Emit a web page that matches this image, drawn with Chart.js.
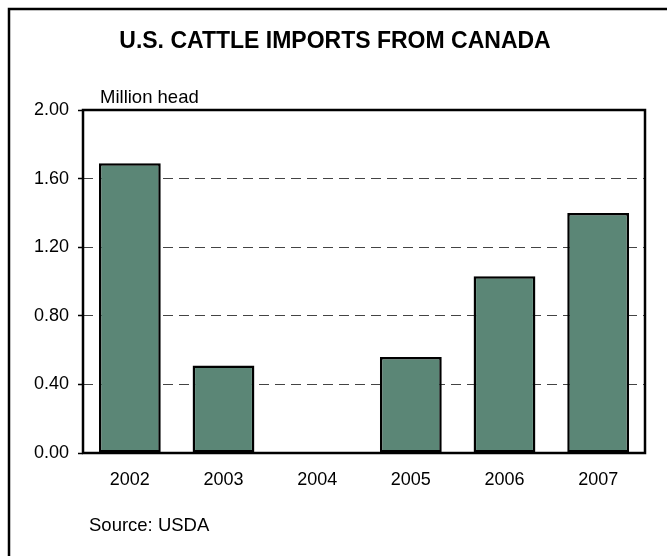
<!DOCTYPE html>
<html>
<head>
<meta charset="utf-8">
<title>U.S. Cattle Imports from Canada</title>
<script src="https://cdn.jsdelivr.net/npm/chart.js@4"></script>
<style>
  html, body { margin: 0; padding: 0; background: #fff; }
  #wrap { width: 667px; height: 556px; }
</style>
</head>
<body>
<div id="wrap"><canvas id="cattleChart" width="667" height="556"></canvas></div>
<script>
// Imports per year, million head
const years = ['2002', '2003', '2004', '2005', '2006', '2007'];
const imports = [1.69, 0.51, 0, 0.56, 1.03, 1.40];
const yTicks = [0, 0.4, 0.8, 1.2, 1.6, 2.0];

const FONT = "'Liberation Sans', Arial, sans-serif";

// Frame, title and notes drawn straight onto the canvas
const decorations = {
    id: 'decorations',
    afterDatasetsDraw(chart) {
        const ctx = chart.ctx, a = chart.chartArea;
        ctx.save();
        ctx.strokeStyle = '#000';
        ctx.lineWidth = 2.5;
        ctx.strokeRect(a.left, a.top, a.right - a.left, a.bottom - a.top);
        ctx.restore();
    },
    afterDraw(chart) {
        const ctx = chart.ctx;
        ctx.save();
        // outer box, open to the right and bottom
        ctx.strokeStyle = '#000';
        ctx.lineWidth = 2.5;
        ctx.beginPath();
        ctx.moveTo(9, 560);
        ctx.lineTo(9, 9);
        ctx.lineTo(670, 9);
        ctx.stroke();

        ctx.fillStyle = '#000';
        ctx.textBaseline = 'alphabetic';
        ctx.textAlign = 'center';
        ctx.font = 'bold 23px ' + FONT;
        ctx.fillText('U.S. CATTLE IMPORTS FROM CANADA', 335, 48);

        ctx.textAlign = 'left';
        ctx.font = '18.5px ' + FONT;
        ctx.fillText('Million head', 100, 103);

        ctx.font = '18.5px ' + FONT;
        ctx.fillText('Source: USDA', 89, 531);
        ctx.restore();
    }
};

const ctx = document.getElementById('cattleChart').getContext('2d');
const cattleChart = new Chart(ctx, {
    type: 'bar',
    data: {
        labels: years,
        datasets: [{
            label: 'Cattle imports',
            data: imports,
            backgroundColor: '#5b8676',
            borderColor: '#000',
            borderWidth: 2.5,
            borderSkipped: false,
            barPercentage: 0.66,
            categoryPercentage: 1
        }]
    },
    options: {
        responsive: false,
        animation: false,
        layout: { padding: { left: 8, top: 110, right: 22, bottom: 63 } },
        plugins: {
            legend: { display: false },
            tooltip: { enabled: false }
        },
        scales: {
            x: {
                grid: { display: false, drawTicks: false },
                border: { display: false },
                ticks: {
                    color: '#000',
                    font: { family: FONT, size: 18 },
                    padding: 16,
                    maxRotation: 0
                },
                afterFit: (s) => { s.height = 40; }
            },
            y: {
                min: 0,
                max: 2,
                afterBuildTicks: (s) => { s.ticks = yTicks.map(v => ({ value: v })); },
                grid: {
                    color: '#444',
                    lineWidth: 1,
                    drawTicks: true,
                    tickLength: 5,
                    tickColor: '#000',
                    tickWidth: 1.5
                },
                border: { display: false, dash: [10, 6] },
                ticks: {
                    color: '#000',
                    font: { family: FONT, size: 18 },
                    padding: 9,
                    callback: (v) => Number(v).toFixed(2)
                },
                afterFit: (s) => { s.width = 75; }
            }
        }
    },
    plugins: [decorations]
});
</script>
</body>
</html>
